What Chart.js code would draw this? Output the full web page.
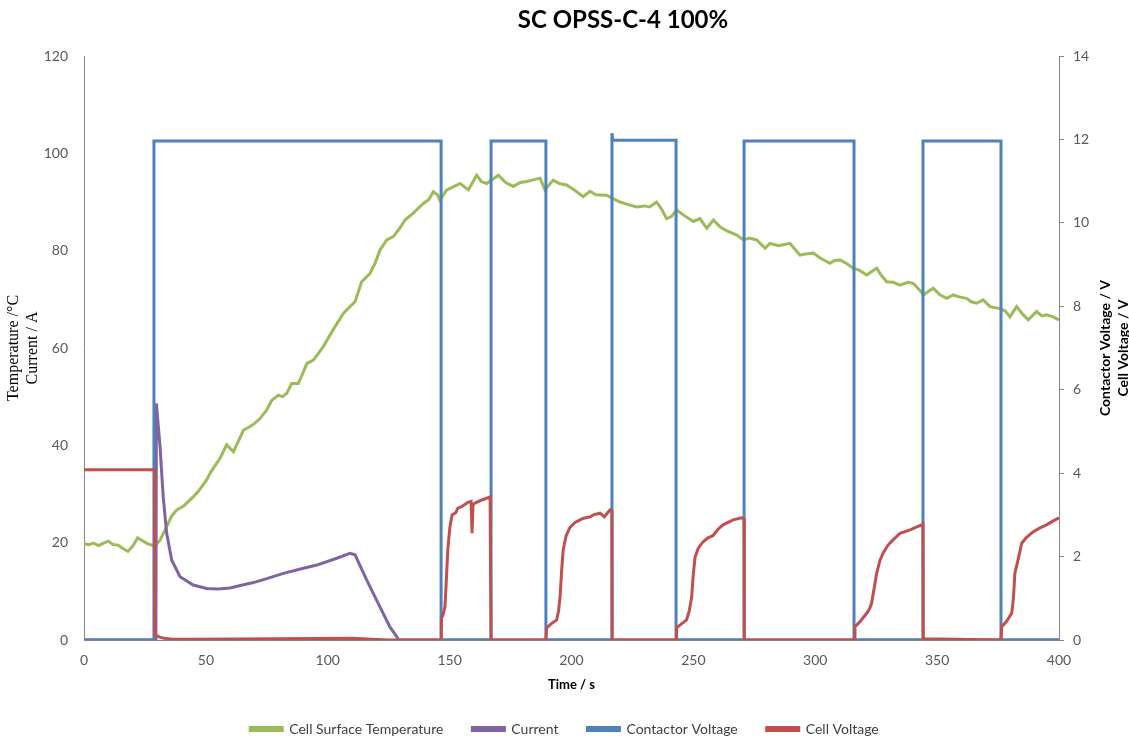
<!DOCTYPE html>
<html>
<head>
<meta charset="utf-8">
<script src="https://cdn.jsdelivr.net/npm/chart.js@4.4.0/dist/chart.umd.min.js"></script>
<style>
  html, body { margin: 0; padding: 0; background: #fff; }
</style>
</head>
<body>
<canvas id="scChart" width="1129" height="742"></canvas>
<script>
// Chart text
const chartTitle = 'SC OPSS-C-4 100%';
const leftTitle = ['Temperature /\u00B0C', 'Current / A'];
const rightTitle = ['Contactor Voltage / V', 'Cell Voltage / V'];
const xTitle = 'Time / s';
const seriesNames = ['Cell Surface Temperature', 'Current', 'Contactor Voltage', 'Cell Voltage'];

// Cell surface temperature (deg C, left axis)
const tempTime = [0, 2, 4, 6, 8, 10, 12, 14, 16, 18, 20, 22, 24, 26, 28.4, 29.5, 31.2, 33.9, 36, 38, 41, 44.8, 47, 50.3, 52, 54.4, 56, 58.5, 61.3, 63, 65.4, 68, 70, 72.2, 75, 77, 79.7, 81.5, 83.2, 85.2, 87.9, 89.5, 91.4, 94.1, 96, 98.2, 100.5, 103, 106.4, 108.5, 111.2, 113.9, 117.3, 119.4, 121.4, 124.2, 126.9, 129.5, 131.7, 135.1, 139.2, 141.5, 143.3, 145, 146, 148.8, 150.2, 154.3, 157.7, 161.1, 163, 165.2, 170, 173, 176.1, 179, 181.6, 184, 187.1, 189.1, 192.5, 195, 198, 201, 204.8, 207.6, 210, 214.4, 216.6, 219.9, 223, 226.7, 230, 232, 234.9, 237, 239, 241, 243.1, 246, 250, 252.7, 255.5, 258.2, 260.9, 264, 267.8, 270.5, 273, 276, 279.4, 281.4, 285, 289.6, 293.7, 296, 299.2, 302, 306, 308, 310.2, 313, 315.6, 318, 321.1, 325.2, 327, 329.3, 332, 334.8, 338, 340.2, 343.5, 344.3, 348.4, 351, 353.9, 356.6, 359, 362.1, 364, 366.2, 368.9, 371.7, 375.8, 378, 379.9, 382.6, 385, 387.4, 390.8, 393, 394.9, 397, 400];
const tempValue = [19.8, 19.6, 19.9, 19.4, 19.9, 20.3, 19.6, 19.5, 18.8, 18.2, 19.3, 21.0, 20.4, 19.8, 19.4, 19.6, 20.5, 23.3, 25.5, 26.7, 27.6, 29.4, 30.6, 32.9, 34.5, 36.3, 37.5, 40.1, 38.7, 40.5, 43.1, 43.8, 44.5, 45.5, 47.3, 49.2, 50.3, 50.0, 50.7, 52.7, 52.7, 54.5, 56.8, 57.5, 58.8, 60.3, 62.3, 64.4, 67.1, 68.2, 69.5, 73.6, 75.3, 77.4, 80.1, 82.2, 82.9, 84.6, 86.3, 87.7, 89.7, 90.5, 92.1, 91.5, 90.4, 92.5, 92.8, 93.8, 92.5, 95.5, 94.2, 93.8, 95.5, 94.0, 93.2, 94.0, 94.2, 94.5, 94.9, 92.5, 94.5, 93.8, 93.5, 92.5, 91.1, 92.2, 91.5, 91.4, 90.8, 90.0, 89.5, 89.0, 89.2, 89.0, 90.0, 88.5, 86.6, 87.0, 88.4, 87.3, 86.0, 86.6, 84.6, 86.3, 84.9, 84.0, 83.2, 82.2, 82.6, 82.2, 80.5, 81.5, 81.0, 81.5, 79.1, 79.3, 79.5, 78.5, 77.4, 78.0, 78.1, 77.3, 76.4, 76.0, 75.0, 76.4, 75.0, 73.6, 73.5, 72.9, 73.5, 73.3, 71.5, 70.9, 72.3, 71.0, 70.2, 70.9, 70.5, 70.2, 69.5, 69.2, 69.9, 68.5, 68.1, 67.6, 66.4, 68.5, 67.0, 65.8, 67.5, 66.6, 66.8, 66.5, 65.8];

// Current (A, left axis)
const currentTime = [0, 29.5, 29.7, 31.2, 32.5, 33.9, 36, 39.4, 44.8, 50.3, 55, 59.9, 65, 69.5, 75, 81.8, 88, 95.5, 103.7, 109.1, 111.2, 116, 121.4, 125.5, 128.3, 129, 400];
const currentValue = [0, 0, 48.6, 39.7, 29.4, 22.0, 16.4, 13.0, 11.3, 10.6, 10.5, 10.7, 11.3, 11.8, 12.6, 13.7, 14.5, 15.4, 16.8, 17.8, 17.5, 12.3, 6.8, 2.7, 0.7, 0, 0];

// Contactor voltage (V, right axis)
const contactorTime = [0, 28.7, 28.7, 146.5, 146.5, 167, 167, 189.5, 189.5, 216.6, 216.6, 217, 242.9, 242.9, 270.8, 270.8, 315.9, 315.9, 344.2, 344.2, 376.2, 376.2, 400];
const contactorValue = [0, 0, 11.96, 11.96, 0, 0, 11.96, 11.96, 0, 0, 12.15, 11.98, 11.98, 0, 0, 11.96, 11.96, 0, 0, 11.96, 11.96, 0, 0];

// Cell voltage (V, right axis)
const cellTime = [0, 28.9, 29.0, 30, 31, 33, 36, 45, 80, 110, 118, 125, 146.5,
  146.6, 147.3, 148.1, 148.7, 149.3, 150.1, 151, 152.5, 153.4, 155, 157.5, 158.8, 159.2, 159.6, 160.4, 163, 166.6, 167.0, 189.5,
  189.8, 191.5, 193.9, 194.7, 195.3, 196, 196.6, 197.8, 199.4, 201.5, 203.5, 205, 207.6, 209, 211.7, 213.5, 215.8, 216.6, 216.7, 242.9,
  243.1, 245, 247.2, 248.3, 249.3, 250, 250.7, 252, 253.9, 256, 258, 260, 262.2, 266.3, 269.8, 270.8, 270.9, 315.9,
  316.3, 318.5, 321.1, 322.3, 323.1, 324.2, 325.2, 326.5, 327.8, 329.8, 331.9, 334.8, 338.9, 343.6, 344.2, 344.3, 376.2,
  376.5, 378.5, 380.6, 381.3, 381.9, 383.2, 384.7, 386.5, 389.3, 392, 394.9, 397.5, 400];
const cellValue = [4.08, 4.08, 0.12, 0.10, 0.07, 0.04, 0.02, 0.02, 0.03, 0.04, 0.02, 0.0, 0.0,
  0.53, 0.6, 0.8, 1.5, 2.2, 2.7, 3.0, 3.05, 3.16, 3.2, 3.3, 3.32, 2.56, 3.25, 3.28, 3.35, 3.43, 0, 0,
  0.29, 0.38, 0.48, 0.7, 1.03, 1.7, 2.16, 2.5, 2.7, 2.82, 2.88, 2.92, 2.95, 3.0, 3.04, 2.95, 3.12, 3.1, 0, 0,
  0.29, 0.38, 0.48, 0.7, 1.03, 1.6, 1.99, 2.2, 2.35, 2.45, 2.5, 2.65, 2.76, 2.88, 2.93, 2.9, 0, 0,
  0.32, 0.45, 0.64, 0.75, 0.88, 1.25, 1.6, 1.9, 2.08, 2.27, 2.4, 2.56, 2.64, 2.76, 2.78, 0.03, 0,
  0.32, 0.45, 0.64, 1.0, 1.6, 1.92, 2.32, 2.45, 2.59, 2.68, 2.76, 2.85, 2.93];

// Axis ranges
const xRange = [0, 400, 50];
const leftRange = [0, 120, 20];
const rightRange = [0, 14, 2];

function toPoints(xs, ys) {
  return xs.map((x, i) => ({ x: x, y: ys[i] }));
}

const tickColor = '#595959';
const axisColor = '#868686';

// Title and right-hand axis title (drawn reading bottom to top, like the original)
const extraText = {
  id: 'extraText',
  afterDraw(chart) {
    const ctx = chart.ctx;
    const area = chart.chartArea;
    ctx.save();
    ctx.fillStyle = '#000';
    ctx.textAlign = 'center';
    ctx.textBaseline = 'middle';
    ctx.font = 'bold 24px Lato';
    ctx.fillText(chartTitle, 623, 20);
    ctx.font = 'bold 14px Lato';
    ctx.translate(1105, (area.top + area.bottom) / 2);
    ctx.rotate(-Math.PI / 2);
    ctx.fillText(rightTitle[0], 0, 0);
    ctx.fillText(rightTitle[1], 0, 18);
    ctx.restore();
  }
};

function makeLine(label, xs, ys, color, axis, order) {
  return {
    label: label,
    data: toPoints(xs, ys),
    borderColor: color,
    backgroundColor: color,
    borderWidth: 3,
    pointRadius: 0,
    tension: 0,
    yAxisID: axis,
    order: order
  };
}

const ctx = document.getElementById('scChart').getContext('2d');
new Chart(ctx, {
  type: 'line',
  data: {
    datasets: [
      makeLine(seriesNames[0], tempTime, tempValue, '#9BBB59', 'yLeft', 4),
      makeLine(seriesNames[1], currentTime, currentValue, '#8064A2', 'yLeft', 3),
      makeLine(seriesNames[2], contactorTime, contactorValue, '#4F81BD', 'yRight', 2),
      makeLine(seriesNames[3], cellTime, cellValue, '#C0504D', 'yRight', 1)
    ]
  },
  plugins: [extraText],
  options: {
    responsive: false,
    animation: false,
    layout: { padding: { top: 56, left: 0, right: 0, bottom: -4 } },
    plugins: {
      title: { display: false },
      tooltip: { enabled: false },
      legend: {
        position: 'bottom',
        labels: {
          boxWidth: 32,
          boxHeight: 3,
          padding: 29,
          color: '#404040',
          font: { family: 'Lato', size: 14 },
          sort: (a, b) => a.datasetIndex - b.datasetIndex
        }
      }
    },
    scales: {
      x: {
        type: 'linear',
        min: xRange[0], max: xRange[1],
        afterFit: (s) => { s.height = 53; },
        grid: { drawOnChartArea: false, drawTicks: false },
        border: { color: axisColor, width: 1 },
        ticks: { stepSize: xRange[2], padding: 12, color: tickColor, font: { family: 'Lato', size: 14 } },
        title: { display: true, text: xTitle, color: '#000', font: { family: 'Lato', size: 13, weight: 'bold' }, padding: { top: 0, bottom: 0 } }
      },
      yLeft: {
        position: 'left',
        min: leftRange[0], max: leftRange[1],
        afterFit: (s) => { s.width = 84; },
        grid: { drawOnChartArea: false, drawTicks: false },
        border: { color: axisColor, width: 1 },
        ticks: { stepSize: leftRange[2], padding: 16, color: tickColor, font: { family: 'Lato', size: 14 } },
        title: { display: true, text: leftTitle, color: '#000', font: { family: 'Liberation Serif', size: 16, lineHeight: 1.15 }, padding: { top: 5 } }
      },
      yRight: {
        position: 'right',
        min: rightRange[0], max: rightRange[1],
        afterFit: (s) => { s.width = 70; },
        grid: { drawOnChartArea: false, drawTicks: true, tickLength: 5, color: axisColor },
        border: { color: axisColor, width: 1 },
        ticks: { stepSize: rightRange[2], padding: 9, color: tickColor, font: { family: 'Lato', size: 14 } }
      }
    }
  }
});
</script>
</body>
</html>
